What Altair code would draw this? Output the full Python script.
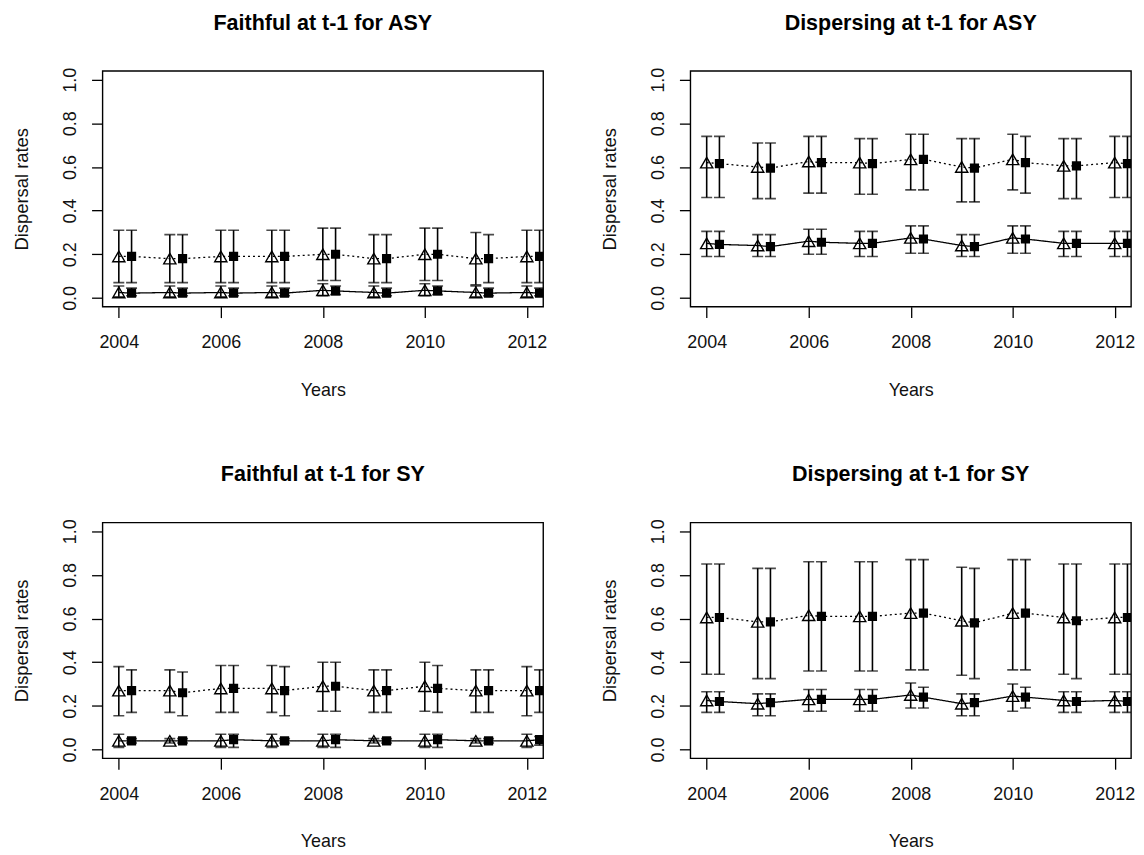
import altair as alt
import pandas as pd

years = [2004, 2005, 2006, 2007, 2008, 2009, 2010, 2011, 2012]
panel_titles = ["Faithful at t-1 for ASY", "Dispersing at t-1 for ASY",
                "Faithful at t-1 for SY", "Dispersing at t-1 for SY"]

# ---- Panel A: Faithful at t-1 for ASY ----
A_dot_tri = [0.19, 0.18, 0.19, 0.19, 0.20, 0.18, 0.20, 0.18, 0.19]
A_dot_tri_lo = [0.07, 0.07, 0.07, 0.07, 0.08, 0.07, 0.08, 0.06, 0.07]
A_dot_tri_hi = [0.31, 0.29, 0.31, 0.31, 0.32, 0.29, 0.32, 0.30, 0.31]
A_dot_sq = [0.19, 0.18, 0.19, 0.19, 0.20, 0.18, 0.20, 0.18, 0.19]
A_dot_sq_lo = [0.07, 0.07, 0.07, 0.07, 0.08, 0.07, 0.08, 0.07, 0.07]
A_dot_sq_hi = [0.31, 0.29, 0.31, 0.31, 0.32, 0.29, 0.32, 0.29, 0.31]
A_sol_tri = [0.025, 0.025, 0.025, 0.025, 0.035, 0.025, 0.035, 0.025, 0.025]
A_sol_tri_lo = [0.005, 0.005, 0.005, 0.005, 0.01, 0.005, 0.01, 0.005, 0.005]
A_sol_tri_hi = [0.055, 0.055, 0.055, 0.055, 0.065, 0.055, 0.065, 0.055, 0.055]
A_sol_sq = [0.022, 0.022, 0.022, 0.022, 0.032, 0.022, 0.032, 0.022, 0.022]
A_sol_sq_lo = [0.01, 0.01, 0.01, 0.01, 0.015, 0.01, 0.015, 0.01, 0.01]
A_sol_sq_hi = [0.045, 0.045, 0.045, 0.045, 0.055, 0.045, 0.055, 0.045, 0.045]

# ---- Panel B: Dispersing at t-1 for ASY ----
B_dot_tri = [0.62, 0.60, 0.625, 0.62, 0.635, 0.60, 0.635, 0.605, 0.62]
B_dot_tri_lo = [0.46, 0.455, 0.48, 0.475, 0.495, 0.44, 0.495, 0.455, 0.46]
B_dot_tri_hi = [0.74, 0.71, 0.74, 0.73, 0.75, 0.73, 0.75, 0.73, 0.74]
B_dot_sq = [0.615, 0.595, 0.62, 0.615, 0.635, 0.595, 0.62, 0.605, 0.615]
B_dot_sq_lo = [0.46, 0.455, 0.48, 0.475, 0.495, 0.44, 0.48, 0.455, 0.46]
B_dot_sq_hi = [0.74, 0.71, 0.74, 0.73, 0.75, 0.73, 0.74, 0.73, 0.74]
B_sol_tri = [0.25, 0.24, 0.26, 0.25, 0.275, 0.24, 0.275, 0.25, 0.25]
B_sol_tri_lo = [0.19, 0.19, 0.20, 0.19, 0.205, 0.19, 0.205, 0.19, 0.19]
B_sol_tri_hi = [0.305, 0.29, 0.315, 0.305, 0.33, 0.29, 0.33, 0.305, 0.305]
B_sol_sq = [0.245, 0.235, 0.255, 0.25, 0.27, 0.235, 0.27, 0.25, 0.25]
B_sol_sq_lo = [0.19, 0.19, 0.20, 0.19, 0.205, 0.19, 0.205, 0.19, 0.19]
B_sol_sq_hi = [0.305, 0.29, 0.315, 0.305, 0.33, 0.29, 0.33, 0.305, 0.305]

# ---- Panel C: Faithful at t-1 for SY ----
C_dot_tri = [0.27, 0.27, 0.28, 0.28, 0.29, 0.27, 0.29, 0.27, 0.27]
C_dot_tri_lo = [0.155, 0.17, 0.17, 0.17, 0.175, 0.17, 0.175, 0.17, 0.155]
C_dot_tri_hi = [0.38, 0.365, 0.385, 0.385, 0.40, 0.365, 0.40, 0.365, 0.38]
C_dot_sq = [0.27, 0.26, 0.28, 0.27, 0.29, 0.27, 0.28, 0.27, 0.27]
C_dot_sq_lo = [0.17, 0.155, 0.17, 0.155, 0.175, 0.17, 0.17, 0.17, 0.17]
C_dot_sq_hi = [0.365, 0.355, 0.385, 0.38, 0.40, 0.365, 0.385, 0.365, 0.365]
C_sol_tri = [0.04, 0.04, 0.04, 0.04, 0.04, 0.04, 0.04, 0.04, 0.04]
C_sol_tri_lo = [0.01, 0.03, 0.01, 0.01, 0.01, 0.03, 0.01, 0.03, 0.01]
C_sol_tri_hi = [0.07, 0.05, 0.07, 0.07, 0.07, 0.05, 0.07, 0.05, 0.07]
C_sol_sq = [0.04, 0.04, 0.045, 0.04, 0.045, 0.04, 0.045, 0.04, 0.045]
C_sol_sq_lo = [0.03, 0.03, 0.01, 0.03, 0.01, 0.03, 0.01, 0.03, 0.02]
C_sol_sq_hi = [0.05, 0.05, 0.07, 0.05, 0.07, 0.05, 0.07, 0.05, 0.06]

# ---- Panel D: Dispersing at t-1 for SY ----
D_dot_tri = [0.605, 0.585, 0.615, 0.61, 0.625, 0.59, 0.625, 0.605, 0.605]
D_dot_tri_lo = [0.345, 0.325, 0.36, 0.36, 0.365, 0.34, 0.365, 0.345, 0.345]
D_dot_tri_hi = [0.85, 0.83, 0.86, 0.86, 0.87, 0.835, 0.87, 0.85, 0.85]
D_dot_sq = [0.605, 0.585, 0.61, 0.61, 0.625, 0.58, 0.625, 0.59, 0.605]
D_dot_sq_lo = [0.345, 0.325, 0.36, 0.36, 0.365, 0.325, 0.365, 0.325, 0.345]
D_dot_sq_hi = [0.85, 0.83, 0.86, 0.86, 0.87, 0.83, 0.87, 0.85, 0.85]
D_sol_tri = [0.225, 0.21, 0.23, 0.23, 0.25, 0.21, 0.245, 0.225, 0.225]
D_sol_tri_lo = [0.17, 0.155, 0.175, 0.175, 0.19, 0.155, 0.175, 0.17, 0.17]
D_sol_tri_hi = [0.265, 0.255, 0.275, 0.275, 0.305, 0.255, 0.30, 0.265, 0.265]
D_sol_sq = [0.22, 0.215, 0.23, 0.23, 0.24, 0.215, 0.24, 0.22, 0.22]
D_sol_sq_lo = [0.17, 0.155, 0.175, 0.175, 0.19, 0.155, 0.19, 0.17, 0.17]
D_sol_sq_hi = [0.265, 0.255, 0.275, 0.275, 0.285, 0.255, 0.285, 0.265, 0.265]

SQ_SHIFT = 0.25
FONT = "Liberation Sans"


def build(est_lo_hi):
    rows = []
    for (series, shape), (est, lo, hi) in est_lo_hi.items():
        shift = SQ_SHIFT if shape == "sq" else 0.0
        for i, yr in enumerate(years):
            rows.append(dict(x=yr + shift, series=series, shape=shape,
                             est=est[i], lo=lo[i], hi=hi[i]))
    return pd.DataFrame(rows)


panels_data = [
    build({("dot", "tri"): (A_dot_tri, A_dot_tri_lo, A_dot_tri_hi),
           ("dot", "sq"): (A_dot_sq, A_dot_sq_lo, A_dot_sq_hi),
           ("sol", "tri"): (A_sol_tri, A_sol_tri_lo, A_sol_tri_hi),
           ("sol", "sq"): (A_sol_sq, A_sol_sq_lo, A_sol_sq_hi)}),
    build({("dot", "tri"): (B_dot_tri, B_dot_tri_lo, B_dot_tri_hi),
           ("dot", "sq"): (B_dot_sq, B_dot_sq_lo, B_dot_sq_hi),
           ("sol", "tri"): (B_sol_tri, B_sol_tri_lo, B_sol_tri_hi),
           ("sol", "sq"): (B_sol_sq, B_sol_sq_lo, B_sol_sq_hi)}),
    build({("dot", "tri"): (C_dot_tri, C_dot_tri_lo, C_dot_tri_hi),
           ("dot", "sq"): (C_dot_sq, C_dot_sq_lo, C_dot_sq_hi),
           ("sol", "tri"): (C_sol_tri, C_sol_tri_lo, C_sol_tri_hi),
           ("sol", "sq"): (C_sol_sq, C_sol_sq_lo, C_sol_sq_hi)}),
    build({("dot", "tri"): (D_dot_tri, D_dot_tri_lo, D_dot_tri_hi),
           ("dot", "sq"): (D_dot_sq, D_dot_sq_lo, D_dot_sq_hi),
           ("sol", "tri"): (D_sol_tri, D_sol_tri_lo, D_sol_tri_hi),
           ("sol", "sq"): (D_sol_sq, D_sol_sq_lo, D_sol_sq_hi)}),
]

W, H = 443, 237

x_scale = alt.Scale(domain=[2003.68, 2012.32], nice=False, zero=False)
y_scale = alt.Scale(domain=[-0.04, 1.04], nice=False, zero=False)

x_axis = alt.Axis(values=[2004, 2006, 2008, 2010, 2012], format="d", title="Years",
                  grid=False, domain=False, tickSize=11, tickWidth=1.3, tickColor="black",
                  labelFont=FONT, labelFontSize=18, labelColor="#111111",
                  labelBaseline="alphabetic", labelPadding=30, labelFlush=False,
                  labelOverlap=False,
                  titleFont=FONT, titleFontSize=18, titleFontWeight="normal",
                  titleColor="#111111", titleBaseline="alphabetic", titleY=89,
                  titleX=W / 2, titleAlign="center")
y_axis = alt.Axis(values=[0, 0.2, 0.4, 0.6, 0.8, 1.0], format=".1f", title="Dispersal rates",
                  grid=False, domain=False, tickSize=11, tickWidth=1.3, tickColor="black",
                  labelFont=FONT, labelFontSize=18, labelColor="#111111",
                  labelAngle=270, labelAlign="center", labelBaseline="alphabetic",
                  labelPadding=16, labelFlush=False, labelOverlap=False,
                  titleFont=FONT, titleFontSize=18.5, titleFontWeight="normal",
                  titleColor="#111111", titleAngle=270, titleAlign="center",
                  titleBaseline="alphabetic", titleX=-75, titleY=H / 2)


def panel(title, df):
    base = alt.Chart(df)
    xenc = alt.X("x:Q", scale=x_scale, axis=x_axis)
    bars = base.mark_rule(color="black", strokeWidth=1.6, clip=True).encode(
        x=xenc, y=alt.Y("lo:Q", scale=y_scale, axis=y_axis), y2="hi:Q")
    cap_lo = base.mark_tick(orient="horizontal", size=11, thickness=1.6,
                            color="black", clip=True).encode(x="x:Q", y="lo:Q")
    cap_hi = base.mark_tick(orient="horizontal", size=11, thickness=1.6,
                            color="black", clip=True).encode(x="x:Q", y="hi:Q")
    lines = base.mark_line(color="black", strokeWidth=1.3, clip=True).encode(
        x="x:Q", y="est:Q", detail="series:N", order="x:Q",
        strokeDash=alt.StrokeDash("series:N",
                                  scale=alt.Scale(domain=["dot", "sol"],
                                                  range=[[2, 3], [1, 0]]),
                                  legend=None))
    tris = base.transform_filter(alt.datum.shape == "tri").mark_point(
        shape="triangle-up", size=150, filled=False, stroke="black",
        strokeWidth=1.4, opacity=1, clip=True).encode(x="x:Q", y="est:Q")
    sqs = base.transform_filter(alt.datum.shape == "sq").mark_square(
        size=85, color="black", opacity=1, clip=True).encode(x="x:Q", y="est:Q")
    return alt.layer(bars, cap_lo, cap_hi, lines, tris, sqs).properties(
        width=W, height=H,
        title=alt.TitleParams(title, font=FONT, fontSize=21.6, fontWeight="bold",
                              color="black", anchor="middle", frame="group",
                              baseline="alphabetic", offset=16))


charts = [panel(t, d) for t, d in zip(panel_titles, panels_data)]

chart = alt.concat(*charts, columns=2, spacing={"row": 217, "column": 148},
                   bounds="flush").properties(
    padding={"left": 4, "top": 1, "right": 0, "bottom": 0},
    background="white"
).configure_view(stroke="black", strokeWidth=1.4)

chart.save("out.html", embed_options={"renderer": "svg", "actions": False})
